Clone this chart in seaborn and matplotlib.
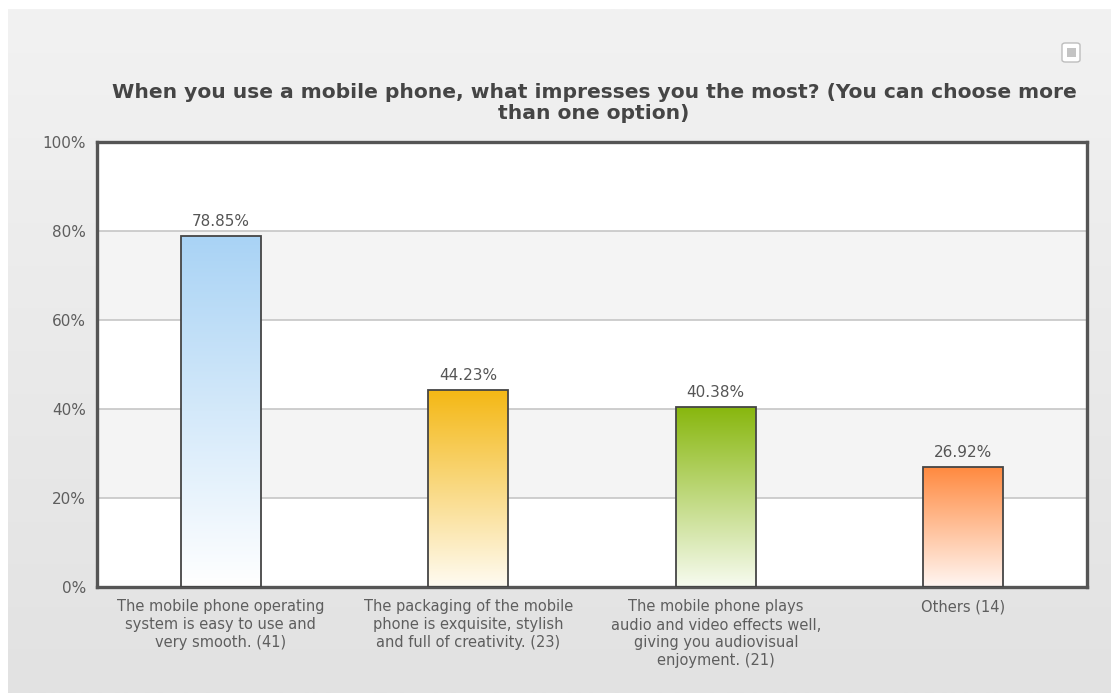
import numpy as np
import pandas as pd
import matplotlib
matplotlib.use("Agg")
import matplotlib.pyplot as plt
import seaborn as sns
from matplotlib.colors import LinearSegmentedColormap
from matplotlib.patches import FancyBboxPatch, Rectangle

# Survey results: share of respondents choosing each option (52 respondents)
categories = [
    "The mobile phone operating system is easy to use and very smooth.",
    "The packaging of the mobile phone is exquisite, stylish and full of creativity.",
    "The mobile phone plays audio and video effects well, giving you audiovisual enjoyment.",
    "Others",
]
counts = [41, 23, 21, 14]
percentages = [78.85, 44.23, 40.38, 26.92]
tick_labels = [
    "The mobile phone operating\nsystem is easy to use and\nvery smooth. (41)",
    "The packaging of the mobile\nphone is exquisite, stylish\nand full of creativity. (23)",
    "The mobile phone plays\naudio and video effects well,\ngiving you audiovisual\nenjoyment. (21)",
    "Others (14)",
]
y_ticks = [0, 20, 40, 60, 80, 100]
y_tick_labels = ["0%", "20%", "40%", "60%", "80%", "100%"]
title = ("When you use a mobile phone, what impresses you the most? (You can choose more\n"
         "than one option)")

top_colors = ["#a9d3f5", "#f4b815", "#88b70e", "#ff8a40"]
bottom_colors = ["#ffffff", "#fffbf2", "#f7fbf0", "#fff6f2"]

sns.set_theme(style="white")
plt.rcParams["font.family"] = ["DejaVu Sans"]

W, H = 1111, 693
fig = plt.figure(figsize=(W / 100, H / 100), dpi=100)
fig.patch.set_facecolor("white")

# Panel background with a soft vertical gradient
bg = fig.add_axes([8 / W, 0, 1 - 8 / W, 1 - 9 / H], zorder=-10)
grad = np.linspace(0, 1, 256).reshape(-1, 1)
bg.imshow(grad, aspect="auto", extent=[0, 1, 0, 1], origin="upper",
          cmap=LinearSegmentedColormap.from_list("panel", ["#f2f2f2", "#e2e2e2"]))
bg.axis("off")

# Plot area
ax = fig.add_axes([97 / W, 1 - 587 / H, 990 / W, 445 / H])
ax.set_facecolor("white")

df = pd.DataFrame({"category": categories, "pct": percentages})
sns.barplot(data=df, x="category", y="pct", ax=ax, width=0.323,
            facecolor="none", edgecolor="#454545", linewidth=1.3, zorder=3)
bars = list(ax.containers[0])

# Alternating horizontal bands and grid lines
for lo in (20, 60):
    ax.axhspan(lo, lo + 20, color="#f4f4f4", zorder=0, lw=0)
for y in (20, 40, 60, 80):
    ax.axhline(y, color="#c6c6c6", lw=1.2, zorder=1)

# Fill each bar with a vertical gradient (strong colour at top, fading down)
for patch, c_top, c_bot in zip(bars, top_colors, bottom_colors):
    x0, w, h = patch.get_x(), patch.get_width(), patch.get_height()
    cmap = LinearSegmentedColormap.from_list("bar", [c_top, c_bot])
    ax.imshow(grad, aspect="auto", cmap=cmap, origin="upper",
              extent=[x0, x0 + w, 0, h], zorder=2, interpolation="bilinear")
    patch.set_facecolor("none")

ax.bar_label(ax.containers[0], labels=[f"{p:.2f}%" for p in percentages],
             padding=5, color="#555555", fontsize=11)

ax.set_xlim(-0.5, len(categories) - 0.5)
ax.set_ylim(0, 100)
ax.set_yticks(y_ticks)
ax.set_yticklabels(y_tick_labels)
ax.set_xticks(range(len(categories)))
ax.set_xticklabels(tick_labels, linespacing=1.25, va="top")
ax.tick_params(axis="both", length=0, colors="#5e5e5e")
ax.tick_params(axis="x", pad=9, labelsize=10.5)
ax.tick_params(axis="y", pad=8, labelsize=11)
ax.set_xlabel("")
ax.set_ylabel("")
for s in ax.spines.values():
    s.set_visible(True)
    s.set_color("#555555")
    s.set_linewidth(2.4)

fig.text(594 / W, 1 - 103 / H, title, ha="center", va="center",
         fontsize=14.6, fontweight="bold", color="#454545", linespacing=1.15)

# Small menu button in the top-right corner
btn = FancyBboxPatch((1062 / W, 1 - 62 / H), 18 / W, 19 / H,
                     boxstyle="round,pad=0,rounding_size=0.003",
                     transform=fig.transFigure, facecolor="white",
                     edgecolor="#bdbdbd", lw=1.0)
fig.patches.append(btn)
fig.patches.append(Rectangle((1066.5 / W, 1 - 57 / H), 9 / W, 9 / H,
                             transform=fig.transFigure, facecolor="#c4c4c4",
                             edgecolor="none"))

fig.savefig("out.png", dpi=100)
